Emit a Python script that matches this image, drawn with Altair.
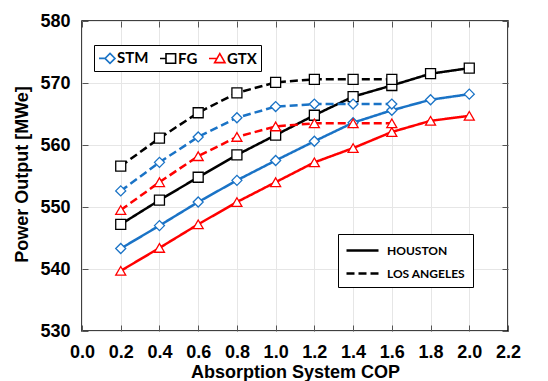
import altair as alt
import pandas as pd

# Absorption-chiller COP sweep
cop_houston = [0.2, 0.4, 0.6, 0.8, 1.0, 1.2, 1.4, 1.6, 1.8, 2.0]
cop_la = [0.2, 0.4, 0.6, 0.8, 1.0, 1.2, 1.4, 1.6]

# Net power output [MWe] per heat source and site
houston_stm = [543.3, 547.0, 550.8, 554.3, 557.5, 560.6, 563.6, 565.6, 567.3, 568.2]
houston_fg = [547.2, 551.1, 554.8, 558.4, 561.6, 564.8, 567.8, 569.6, 571.5, 572.4]
houston_gtx = [539.7, 543.4, 547.2, 550.8, 554.0, 557.2, 559.5, 562.1, 563.9, 564.7]
la_stm = [552.6, 557.2, 561.3, 564.4, 566.2, 566.6, 566.6, 566.6]
la_fg = [556.6, 561.1, 565.2, 568.4, 570.1, 570.6, 570.6, 570.6]
la_gtx = [549.5, 554.0, 558.2, 561.3, 563.0, 563.5, 563.5, 563.5]

fluids = ["STM", "FG", "GTX"]
fluid_colors = ["#1a73c6", "#000000", "#ff0000"]
fluid_shapes = ["diamond", "square", "triangle-up"]
# legend keys: a short line stub followed by the marker
fluid_keys = [
    "M-1,0L-0.25,0M0.375,-0.625L1,0L0.375,0.625L-0.25,0Z",
    "M-1,0L-0.25,0M-0.25,-0.6H0.95V0.6H-0.25Z",
    "M-1,0L0,0M0.35,-0.62L1,0.52L-0.3,0.52Z",
]
cities = ["HOUSTON", "LOS ANGELES"]
city_dashes = [[1, 0], [8, 4]]
# long line key drawn to the right of the symbol slot
city_key = "M-1,0H3"

x_ticks = [0.0, 0.2, 0.4, 0.6, 0.8, 1.0, 1.2, 1.4, 1.6, 1.8, 2.0, 2.2]
y_ticks = [530, 540, 550, 560, 570, 580]

rows = []
for city, cops, series in [
    ("HOUSTON", cop_houston, {"STM": houston_stm, "FG": houston_fg, "GTX": houston_gtx}),
    ("LOS ANGELES", cop_la, {"STM": la_stm, "FG": la_fg, "GTX": la_gtx}),
]:
    for fluid, values in series.items():
        for c, v in zip(cops, values):
            rows.append({"cop": c, "power": v, "fluid": fluid, "city": city,
                         "series": f"{fluid} {city}"})
df = pd.DataFrame(rows)

FONT = "Liberation Sans"
KEY_FONT = "Lato"
inward = {"expr": "-6"}

x_scale = alt.Scale(domain=[0, 2.2], nice=False, zero=False)
y_scale = alt.Scale(domain=[530, 580], nice=False, zero=False)

color_scale = alt.Scale(domain=fluids, range=fluid_colors)

base = alt.Chart(df)

lines = base.mark_line(strokeWidth=2.5).encode(
    x=alt.X("cop:Q", scale=x_scale, axis=alt.Axis(
        values=x_ticks, format=".1f", title="Absorption System COP",
        titleY=46, titleBaseline="alphabetic", labelFlush=False,
        labelPadding=18, tickSize=inward)),
    y=alt.Y("power:Q", scale=y_scale, axis=alt.Axis(
        values=y_ticks, title="Power Output [MWe]", labelFlush=False,
        titleX=-55, titleY=153, titleBaseline="alphabetic", titleAngle=270,
        labelPadding=18, tickSize=inward)),
    color=alt.Color("fluid:N", scale=color_scale, legend=None),
    strokeDash=alt.StrokeDash("city:N", scale=alt.Scale(domain=cities, range=city_dashes),
                              legend=alt.Legend(
                                  title=None, orient="none", legendX=256, legendY=213,
                                  symbolType=city_key, symbolSize=256,
                                  symbolStrokeWidth=2.5, symbolStrokeColor="black",
                                  labelFont=KEY_FONT, labelFontSize=12,
                                  labelFontWeight="bold", labelColor="black",
                                  labelOffset=23, rowPadding=7, padding=7,
                                  strokeColor="black", fillColor="white")),
    detail="series:N",
)

points = base.mark_point(size=100, fill="white", opacity=1, strokeWidth=1.3).encode(
    x=alt.X("cop:Q", scale=x_scale, axis=None),
    y=alt.Y("power:Q", scale=y_scale, axis=None),
    color=alt.Color("fluid:N", scale=color_scale, legend=None),
    shape=alt.Shape("fluid:N", scale=alt.Scale(domain=fluids, range=fluid_shapes), legend=None),
    detail="series:N",
)

fluid_legend = alt.Legend(
    title=None, orient="none", legendX=12, legendY=24, direction="horizontal",
    symbolSize=256, symbolStrokeWidth=1.6, symbolOpacity=1,
    labelFont=KEY_FONT, labelFontSize=15, labelFontWeight="bold", labelColor="black",
    labelOffset=1, columnPadding=7, padding=4,
    strokeColor="black", fillColor="white")

# carries the heat-source legend only (no rows drawn)
fluid_key = base.transform_filter("false").mark_point(opacity=1, strokeWidth=1.6).encode(
    x=alt.X("cop:Q", scale=x_scale, axis=None),
    y=alt.Y("power:Q", scale=y_scale, axis=None),
    color=alt.Color("fluid:N", scale=color_scale, legend=fluid_legend),
    shape=alt.Shape("fluid:N", scale=alt.Scale(domain=fluids, range=fluid_keys),
                    legend=fluid_legend),
)

# inward ticks along the top and right edges of the frame
frame = base.transform_filter("false").mark_point().encode(
    x=alt.X("cop:Q", scale=x_scale, axis=alt.Axis(
        orient="top", values=x_ticks, labels=False, grid=False, domain=False,
        title=None, tickSize=inward)),
    y=alt.Y("power:Q", scale=y_scale, axis=alt.Axis(
        orient="right", values=y_ticks, labels=False, grid=False, domain=False,
        title=None, tickSize=inward)),
)

chart = alt.layer(lines, points, fluid_key, frame).resolve_scale(
    color="independent", shape="independent"
).resolve_axis(
    x="independent", y="independent"
).properties(
    width=426, height=310,
    autosize=alt.AutoSizeParams(type="none"),
    padding={"left": 82, "top": 21, "right": 40, "bottom": 50},
    background="white",
).configure_view(
    stroke="black", strokeWidth=1.5
).configure_axis(
    domain=False,
    grid=True, gridColor="#e6e6e6", gridWidth=1,
    tickColor="#555555", tickWidth=1,
    labelFont=FONT, labelFontSize=18, labelFontWeight="bold", labelColor="black",
    titleFont=FONT, titleFontSize=18, titleFontWeight="bold", titleColor="black",
)

chart.save("out.html", embed_options={"renderer": "svg", "actions": False})
